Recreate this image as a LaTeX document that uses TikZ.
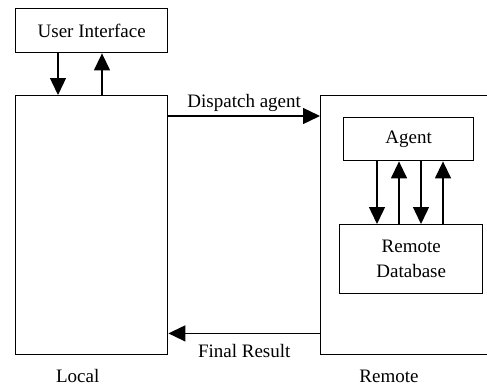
\documentclass[tikz,border=0pt]{standalone}
\usepackage{fontspec}
\setmainfont{Liberation Serif}
\usetikzlibrary{arrows.meta,positioning}
\tikzset{
  box/.style={draw,line width=1.4pt,inner sep=0pt,anchor=north west},
  arr/.style={line width=1.4pt,-{Triangle[length=17pt,width=16pt]}},
  lbl/.style={font=\fontsize{19}{25}\selectfont,inner sep=0pt},
}
\begin{document}
\begin{tikzpicture}[x=1pt,y=-1pt]
        \useasboundingbox (0,0) rectangle (487,391);
        % boxes
        \node[box,lbl,minimum width=152pt,minimum height=44pt] (ui) at (15,8) {User Interface};
        \node[box,minimum width=152pt,minimum height=259pt] (local) at (15,95) {};
        \begin{scope}
          \clip (0,0) rectangle (487,391);
          \node[box,minimum width=180pt,minimum height=259pt] (remote) at (320,95) {};
        \end{scope}
        \node[box,lbl,minimum width=130pt,minimum height=43pt] (agent) at (343,117) {Agent};
        \node[box,lbl,align=center,minimum width=143pt,minimum height=69pt] (db) at (339,224) {Remote\\Database};
        % arrows
        \draw[arr] ([xshift=43pt]ui.south west) -- ([xshift=43pt]local.north west);
        \draw[arr] ([xshift=87pt]local.north west) -- ([xshift=87pt]ui.south west);
        \draw[arr] ([yshift=-21pt]local.north east) -- ([yshift=-21pt]remote.north west)
          node[lbl,midway,above=4pt] {Dispatch agent};
        \draw[arr] ([yshift=22pt]remote.south west) -- ([yshift=22pt]local.south east)
          node[lbl,midway,below=10pt] {Final Result};
        \foreach \dx in {34,78}
          \draw[arr] ([xshift=\dx pt]agent.south west) -- ([xshift=\dx pt]agent.south west |- db.north);
        \foreach \dx in {56,100}
          \draw[arr] ([xshift=\dx pt]agent.south west |- db.north) -- ([xshift=\dx pt]agent.south west);
        % text
        \node[lbl,below=14pt of local.south,xshift=-14pt] (locallbl) {Local};
        \node[lbl,below=14pt of remote.south west,xshift=69pt] (remotelbl) {Remote};
  \end{tikzpicture}
\end{document}
